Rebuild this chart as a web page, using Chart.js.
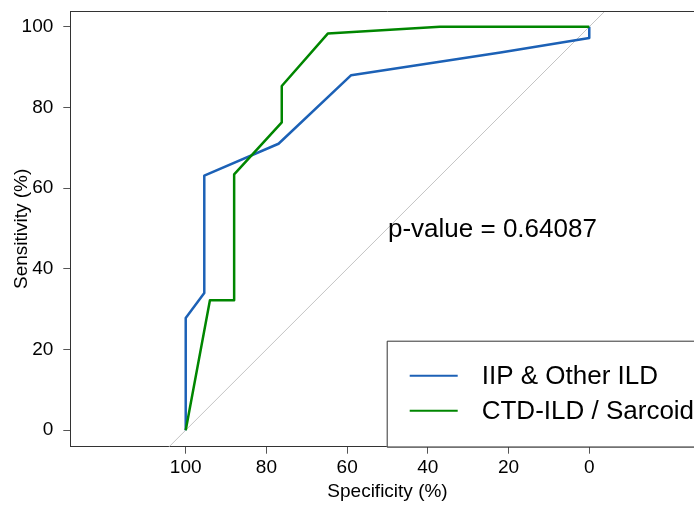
<!DOCTYPE html>
<html>
<head>
<meta charset="utf-8">
<script src="https://cdn.jsdelivr.net/npm/chart.js@4/dist/chart.umd.min.js"></script>
<style>
  html, body { margin: 0; padding: 0; background: #fff; overflow: hidden; }
  #wrap { width: 694px; height: 505px; overflow: hidden; position: relative; }
  canvas { display: block; }
</style>
</head>
<body>
<div id="wrap"><canvas id="c" width="720" height="505"></canvas></div>
<script>
// ---- data ----
const seriesLabels = ["IIP & Other ILD", "CTD-ILD / Sarcoid"];
const seriesColors = ["#1c61b6", "#008600"];
const iipSpec = [100, 100, 95.4, 95.4, 77.0, 59.0, 22.0, 0, 0];
const iipSens = [0, 27.8, 34.0, 63.1, 71.0, 88.0, 93.6, 97.2, 100];
const ctdSpec = [100, 94.0, 88.0, 88.0, 76.2, 76.2, 64.8, 37.0, 0];
const ctdSens = [0, 32.2, 32.2, 63.4, 76.3, 85.3, 98.3, 100, 100];
const xTicks = [100, 80, 60, 40, 20, 0];
const yTicks = [0, 20, 40, 60, 80, 100];
const pValueText = "p-value = 0.64087";
const pValueSpec = 24;
const pValueSens = 49.6;

const FONT = "'Liberation Sans', Arial, Helvetica, sans-serif";

const toPts = (xs, ys) => xs.map((x, i) => ({ x: x, y: ys[i] }));

const rocDecor = {
  id: 'rocDecor',
  beforeDatasetsDraw(chart) {
    const { ctx, chartArea: a, scales: { x, y } } = chart;
    ctx.save();
    ctx.beginPath();
    ctx.rect(a.left, a.top, a.right - a.left, a.bottom - a.top);
    ctx.clip();
    // reference diagonal: sensitivity = 100 - specificity
    const s0 = x.max, s1 = x.min;
    ctx.strokeStyle = '#c4c4c4';
    ctx.lineWidth = 1;
    ctx.beginPath();
    ctx.moveTo(x.getPixelForValue(s0), y.getPixelForValue(100 - s0));
    ctx.lineTo(x.getPixelForValue(s1), y.getPixelForValue(100 - s1));
    ctx.stroke();
    ctx.restore();
  },
  afterDatasetsDraw(chart) {
    const { ctx, chartArea: a, scales: { x, y } } = chart;
    ctx.save();
    // top and right of box
    ctx.strokeStyle = '#333333';
    ctx.lineWidth = 1;
    ctx.beginPath();
    ctx.moveTo(a.left, a.top + 0.5);
    ctx.lineTo(a.right, a.top + 0.5);
    ctx.lineTo(a.right, a.bottom);
    ctx.stroke();

    // p-value annotation
    ctx.fillStyle = '#000';
    ctx.font = '26px ' + FONT;
    ctx.textAlign = 'center';
    ctx.textBaseline = 'middle';
    ctx.fillText(pValueText, x.getPixelForValue(pValueSpec), y.getPixelForValue(pValueSens));

    // legend box (bottom right)
    const bl = a.right - 318, bt = a.bottom - 106;
    ctx.fillStyle = '#fff';
    ctx.fillRect(bl, bt, a.right - bl, a.bottom - bt);
    ctx.strokeStyle = '#333333';
    ctx.beginPath();
    ctx.rect(bl + 0.5, bt + 0.5, a.right - bl, a.bottom - bt);
    ctx.stroke();
    chart.data.datasets.forEach((ds, i) => {
      const ry = bt + 35 + i * 35;
      ctx.strokeStyle = ds.borderColor;
      ctx.lineWidth = 2;
      ctx.beginPath();
      ctx.moveTo(bl + 23, ry);
      ctx.lineTo(bl + 71, ry);
      ctx.stroke();
      ctx.fillStyle = '#000';
      ctx.font = '26px ' + FONT;
      ctx.textAlign = 'left';
      ctx.textBaseline = 'middle';
      ctx.fillText(ds.label, bl + 95, ry + 1.5);
    });
    ctx.restore();
  }
};

function noPad(s) { s.paddingTop = 0; s.paddingBottom = 0; s.paddingLeft = 0; s.paddingRight = 0; }

new Chart(document.getElementById('c'), {
  type: 'scatter',
  data: {
    datasets: [
      { label: seriesLabels[0], data: toPts(iipSpec, iipSens), borderColor: seriesColors[0],
        backgroundColor: seriesColors[0], showLine: true, borderWidth: 2.5, pointRadius: 0,
        borderJoinStyle: 'round', tension: 0, order: 1 },
      { label: seriesLabels[1], data: toPts(ctdSpec, ctdSens), borderColor: seriesColors[1],
        backgroundColor: seriesColors[1], showLine: true, borderWidth: 2.5, pointRadius: 0,
        borderJoinStyle: 'round', tension: 0, order: 0 }
    ]
  },
  options: {
    responsive: false,
    animation: false,
    layout: { padding: { left: 0, top: 11, right: 15.3, bottom: 0 } },
    plugins: { legend: { display: false }, tooltip: { enabled: false } },
    scales: {
      x: {
        type: 'linear', reverse: true, min: -28.6, max: 128.6,
        afterFit(s) { s.height = 58.3; noPad(s); },
        afterBuildTicks(s) { s.ticks = xTicks.map(v => ({ value: v })); },
        grid: { display: true, drawOnChartArea: false, drawTicks: true, tickLength: 7, color: '#555' },
        border: { display: true, color: '#333' },
        ticks: { color: '#000', font: { family: FONT, size: 19 }, padding: 3, maxRotation: 0, autoSkip: false },
        title: { display: true, text: 'Specificity (%)', color: '#000', font: { family: FONT, size: 19 },
                 padding: { top: 0, bottom: 1.6 } }
      },
      y: {
        type: 'linear', min: -4.1, max: 103.9,
        afterFit(s) { s.width = 70.3; noPad(s); },
        afterBuildTicks(s) { s.ticks = yTicks.map(v => ({ value: v })); },
        grid: { display: true, drawOnChartArea: false, drawTicks: true, tickLength: 7, color: '#555' },
        border: { display: true, color: '#333' },
        ticks: { color: '#000', font: { family: FONT, size: 19 }, padding: 10, autoSkip: false },
        title: { display: true, text: 'Sensitivity (%)', color: '#000', font: { family: FONT, size: 19 },
                 padding: { top: 10.6, bottom: 0 } }
      }
    }
  },
  plugins: [rocDecor]
});
</script>
</body>
</html>
